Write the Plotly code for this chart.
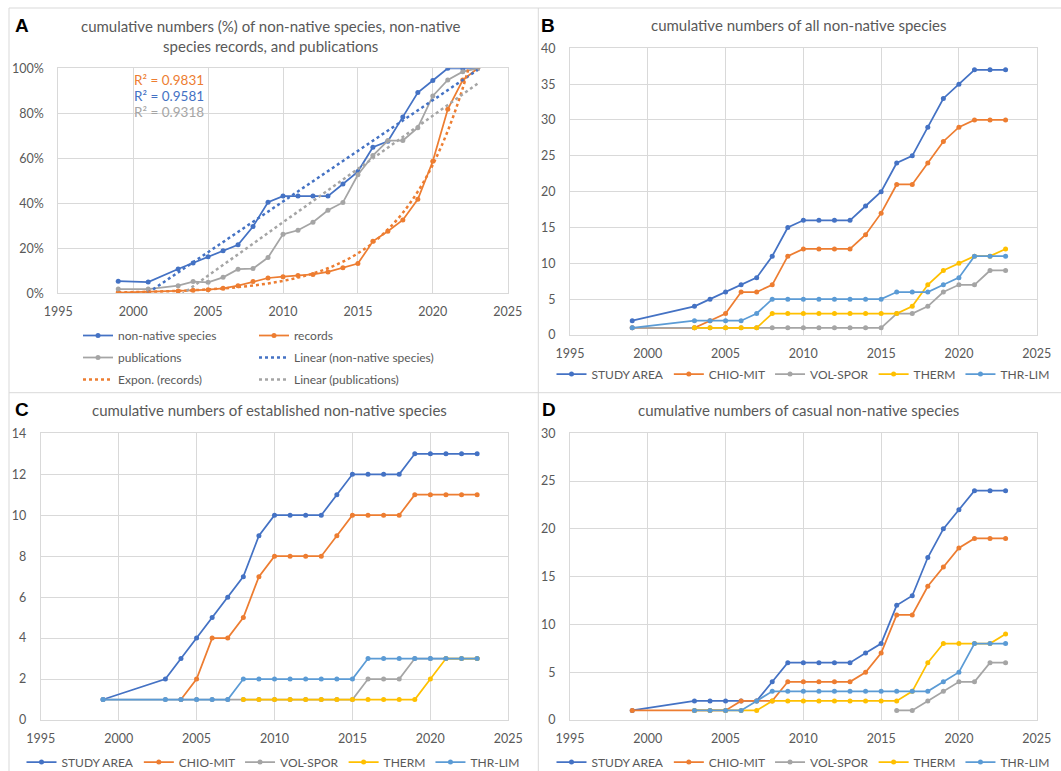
import numpy as np
import plotly.graph_objects as go

# ---------------- data ----------------
years_a = [1999, 2001, 2003, 2004, 2005, 2006, 2007, 2008, 2009, 2010, 2011, 2012,
           2013, 2014, 2015, 2016, 2017, 2018, 2019, 2020, 2021, 2022, 2023]
species_pct = [5.4, 5.0, 10.8, 13.5, 16.2, 18.9, 21.6, 29.7, 40.5, 43.2, 43.2, 43.2,
               43.2, 48.6, 54.1, 64.9, 67.6, 78.4, 89.2, 94.6, 100, 100, 100]
records_pct = [0.3, 0.6, 1.0, 1.3, 1.6, 2.2, 3.4, 5.2, 6.8, 7.4, 7.9, 8.4,
               9.5, 11.3, 13.2, 23.1, 27.6, 32.6, 41.8, 58.7, 81.8, 94.8, 100]
publications_pct = [1.9, 1.9, 3.4, 5.2, 4.9, 7.1, 10.7, 11.0, 15.9, 26.2, 28.0, 31.6,
                    36.9, 40.4, 52.7, 61.2, 67.9, 67.9, 73.6, 87.7, 94.8, 98.5, 100]
r2_labels = ["R² = 0.9831", "R² = 0.9581", "R² = 0.9318"]

years = [1999, 2003, 2004, 2005, 2006, 2007, 2008, 2009, 2010, 2011, 2012,
         2013, 2014, 2015, 2016, 2017, 2018, 2019, 2020, 2021, 2022, 2023]
regions = ["STUDY AREA", "CHIO-MIT", "VOL-SPOR", "THERM", "THR-LIM"]

all_study = [2, 4, 5, 6, 7, 8, 11, 15, 16, 16, 16, 16, 18, 20, 24, 25, 29, 33, 35, 37, 37, 37]
all_chio = [1, 1, 2, 3, 6, 6, 7, 11, 12, 12, 12, 12, 14, 17, 21, 21, 24, 27, 29, 30, 30, 30]
all_vol = [1, 1, 1, 1, 1, 1, 1, 1, 1, 1, 1, 1, 1, 1, 3, 3, 4, 6, 7, 7, 9, 9]
all_therm = [None, 1, 1, 1, 1, 1, 3, 3, 3, 3, 3, 3, 3, 3, 3, 4, 7, 9, 10, 11, 11, 12]
all_thr = [1, 2, 2, 2, 2, 3, 5, 5, 5, 5, 5, 5, 5, 5, 6, 6, 6, 7, 8, 11, 11, 11]

est_study = [1, 2, 3, 4, 5, 6, 7, 9, 10, 10, 10, 10, 11, 12, 12, 12, 12, 13, 13, 13, 13, 13]
est_chio = [None, None, 1, 2, 4, 4, 5, 7, 8, 8, 8, 8, 9, 10, 10, 10, 10, 11, 11, 11, 11, 11]
est_vol = [1, 1, 1, 1, 1, 1, 1, 1, 1, 1, 1, 1, 1, 1, 2, 2, 2, 3, 3, 3, 3, 3]
est_therm = [None, None, None, None, None, None, 1, 1, 1, 1, 1, 1, 1, 1, 1, 1, 1, 1, 2, 3, 3, 3]
est_thr = [1, 1, 1, 1, 1, 1, 2, 2, 2, 2, 2, 2, 2, 2, 3, 3, 3, 3, 3, 3, 3, 3]

cas_study = [1, 2, 2, 2, 2, 2, 4, 6, 6, 6, 6, 6, 7, 8, 12, 13, 17, 20, 22, 24, 24, 24]
cas_chio = [1, 1, 1, 1, 2, 2, 2, 4, 4, 4, 4, 4, 5, 7, 11, 11, 14, 16, 18, 19, 19, 19]
cas_vol = [None, None, None, None, None, None, None, None, None, None, None, None, None, None,
           1, 1, 2, 3, 4, 4, 6, 6]
cas_therm = [None, 1, 1, 1, 1, 1, 2, 2, 2, 2, 2, 2, 2, 2, 2, 3, 6, 8, 8, 8, 8, 9]
cas_thr = [None, 1, 1, 1, 1, 2, 3, 3, 3, 3, 3, 3, 3, 3, 3, 3, 3, 4, 5, 8, 8, 8]

# ---------------- style ----------------
W, H = 1061, 771
FONT = "Lato"
TXT = "#595959"
GRID = "#D9D9D9"
C_BLUE, C_ORANGE, C_GRAY, C_YELLOW, C_LBLUE = "#4472C4", "#ED7D31", "#A5A5A5", "#FFC000", "#5B9BD5"
region_colors = [C_BLUE, C_ORANGE, C_GRAY, C_YELLOW, C_LBLUE]


def px_x(p):
    return p / W


def px_y(p):
    return 1 - p / H


fig = go.Figure()

# panel domains (pixel based)
dom = {
    "A": dict(x=[px_x(58.3), px_x(507.7)], y=[px_y(293.3), px_y(68.3)]),
    "B": dict(x=[px_x(570), px_x(1036.7)], y=[px_y(335), px_y(48.3)]),
    "C": dict(x=[px_x(40.7), px_x(508.3)], y=[px_y(720), px_y(433.3)]),
    "D": dict(x=[px_x(570), px_x(1036.7)], y=[px_y(720), px_y(433.3)]),
}
axis_ids = {"A": ("x", "y"), "B": ("x2", "y2"), "C": ("x3", "y3"), "D": ("x4", "y4")}

# ---- Panel A ----
mk = dict(size=5)
fig.add_trace(go.Scatter(x=years_a, y=species_pct, name="non-native species", mode="lines+markers",
                         line=dict(color=C_BLUE, width=1.75), marker=dict(color=C_BLUE, **mk),
                         xaxis="x", yaxis="y", legend="legend", legendgroup="a1", legendrank=1))
fig.add_trace(go.Scatter(x=years_a, y=records_pct, name="records", mode="lines+markers",
                         line=dict(color=C_ORANGE, width=1.75), marker=dict(color=C_ORANGE, **mk),
                         xaxis="x", yaxis="y", legend="legend2", legendgroup="b1", legendrank=1))
fig.add_trace(go.Scatter(x=years_a, y=publications_pct, name="publications", mode="lines+markers",
                         line=dict(color=C_GRAY, width=1.75), marker=dict(color=C_GRAY, **mk),
                         xaxis="x", yaxis="y", legend="legend", legendgroup="a2", legendrank=2))

xa = np.array(years_a, dtype=float)
lin_s = np.polyfit(xa, np.array(species_pct), 1)
lin_p = np.polyfit(xa, np.array(publications_pct), 1)
exp_r = np.polyfit(xa, np.log(np.array(records_pct)), 1)
x_ends = np.array([years_a[0], years_a[-1]], dtype=float)

fig.add_trace(go.Scatter(x=x_ends, y=np.polyval(lin_s, x_ends), name="Linear (non-native species)",
                         mode="lines", line=dict(color=C_BLUE, width=2.5, dash="dot"),
                         xaxis="x", yaxis="y", legend="legend2", legendgroup="b2", legendrank=2))
fig.add_trace(go.Scatter(x=xa, y=np.exp(np.polyval(exp_r, xa)), name="Expon. (records)",
                         mode="lines", line=dict(color=C_ORANGE, width=2.5, dash="dot", shape="spline"),
                         xaxis="x", yaxis="y", legend="legend", legendgroup="a3", legendrank=3))
fig.add_trace(go.Scatter(x=x_ends, y=np.polyval(lin_p, x_ends), name="Linear (publications)",
                         mode="lines", line=dict(color=C_GRAY, width=2.5, dash="dot"),
                         xaxis="x", yaxis="y", legend="legend2", legendgroup="b3", legendrank=3))

# ---- Panels B, C, D ----
panel_series = {
    "B": [all_study, all_chio, all_vol, all_therm, all_thr],
    "C": [est_study, est_chio, est_vol, est_therm, est_thr],
    "D": [cas_study, cas_chio, cas_vol, cas_therm, cas_thr],
}
panel_legend = {"B": "legend3", "C": "legend4", "D": "legend5"}
for p, series in panel_series.items():
    xid, yid = axis_ids[p]
    for name, vals, col in zip(regions, series, region_colors):
        fig.add_trace(go.Scatter(x=years, y=vals, name=name, mode="lines+markers",
                                 line=dict(color=col, width=1.75), marker=dict(color=col, **mk),
                                 xaxis=xid, yaxis=yid, legend=panel_legend[p]))

# ---- axes ----
tickfont = dict(family=FONT, size=12.5, color=TXT)
yranges = {"A": [0, 100], "B": [0, 40], "C": [0, 14], "D": [0, 30]}
ydticks = {"A": 20, "B": 5, "C": 2, "D": 5}
layout_axes = {}
for i, p in enumerate(["A", "B", "C", "D"]):
    sfx = "" if i == 0 else str(i + 1)
    layout_axes["xaxis" + sfx] = dict(
        domain=dom[p]["x"], anchor="y" + sfx, range=[1995, 2025], dtick=5, tick0=1995,
        showgrid=True, gridcolor=GRID, gridwidth=1, showline=True, linecolor=GRID, mirror=True,
        zeroline=False, ticks="", tickfont=tickfont, ticklabelstandoff=7, fixedrange=True)
    layout_axes["yaxis" + sfx] = dict(
        domain=dom[p]["y"], anchor="x" + sfx, range=yranges[p], dtick=ydticks[p], tick0=0,
        showgrid=True, gridcolor=GRID, gridwidth=1, showline=True, linecolor=GRID, mirror=True,
        zeroline=False, ticks="", tickfont=tickfont, ticklabelstandoff=11,
        ticksuffix="%" if p == "A" else "", fixedrange=True)

legfont = dict(family=FONT, size=12, color=TXT)
legends = dict(
    legend=dict(x=px_x(78), y=px_y(321), xanchor="left", yanchor="top", orientation="v",
                font=legfont, bgcolor="rgba(0,0,0,0)", tracegroupgap=3),
    legend2=dict(x=px_x(254), y=px_y(321), xanchor="left", yanchor="top", orientation="v",
                 font=legfont, bgcolor="rgba(0,0,0,0)", tracegroupgap=3),
    legend3=dict(x=px_x(803), y=px_y(374), xanchor="center", yanchor="middle", orientation="h",
                 font=legfont, bgcolor="rgba(0,0,0,0)"),
    legend4=dict(x=px_x(273), y=px_y(762), xanchor="center", yanchor="middle", orientation="h",
                 font=legfont, bgcolor="rgba(0,0,0,0)"),
    legend5=dict(x=px_x(803), y=px_y(762), xanchor="center", yanchor="middle", orientation="h",
                 font=legfont, bgcolor="rgba(0,0,0,0)"),
)

# ---- annotations ----
titles = [
    ("cumulative numbers (%) of non-native species, non-native<br>species records, and publications", 270, 36),
    ("cumulative numbers of all non-native species", 798.5, 25),
    ("cumulative numbers of established non-native species", 269.5, 410),
    ("cumulative numbers of casual non-native species", 798.5, 410),
]
annotations = []
for t, cx, cy in titles:
    annotations.append(dict(text=t, x=px_x(cx), y=px_y(cy), xref="paper", yref="paper",
                            xanchor="center", yanchor="middle", showarrow=False,
                            font=dict(family=FONT, size=15, color=TXT)))
for lab, cx, cy in [("A", 21.5, 26), ("B", 547.5, 26), ("C", 21.5, 409.5), ("D", 549, 409.5)]:
    annotations.append(dict(text="<b>" + lab + "</b>", x=px_x(cx), y=px_y(cy), xref="paper",
                            yref="paper", xanchor="center", yanchor="middle", showarrow=False,
                            font=dict(family="Liberation Sans", size=19, color="#000000")))
for lab, col, cy in zip(r2_labels, [C_ORANGE, C_BLUE, C_GRAY], [80, 96, 112]):
    annotations.append(dict(text=lab, x=px_x(132), y=px_y(cy), xref="paper", yref="paper",
                            xanchor="left", yanchor="middle", showarrow=False,
                            font=dict(family=FONT, size=13.5, color=col)))

# ---- panel borders ----
shapes = []
for x0, y0, x1, y1 in [(9, 8, 1061, 8), (9, 8, 9, 771), (538.3, 8, 538.3, 771),
                       (9, 392.7, 1061, 392.7)]:
    shapes.append(dict(type="line", xref="paper", yref="paper", x0=px_x(x0), x1=px_x(x1),
                       y0=px_y(y0), y1=px_y(y1), line=dict(color=GRID, width=1)))

fig.update_layout(
    width=W, height=H, margin=dict(l=0, r=0, t=0, b=0, autoexpand=False),
    paper_bgcolor="white", plot_bgcolor="white",
    font=dict(family=FONT, color=TXT),
    annotations=annotations, shapes=shapes, showlegend=True,
    **layout_axes, **legends,
)

fig.write_html("out.html", config={"displayModeBar": False},
               post_script="document.body.style.margin='0';document.body.style.overflow='hidden';")
